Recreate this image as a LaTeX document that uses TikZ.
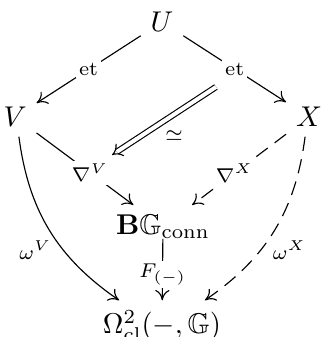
\documentclass[tikz,border=0pt]{standalone}
\usepackage{amsmath,amssymb}
\usetikzlibrary{arrows.meta}
\tikzset{
  obj/.style  ={inner sep=3.3pt},
  map/.style  ={-{To[length=3.6pt, width=5pt]}, line width=0.4pt},
  dmap/.style ={map, dash pattern=on 5pt off 3pt},
  eqv/.style  ={double, double distance=1.4pt, -{Implies}},
  lbl/.style  ={font=\scriptsize, fill=white, inner sep=1pt},
  side/.style ={font=\scriptsize, inner sep=1pt}
}

\begin{document}
\begin{tikzpicture}
  \useasboundingbox (0,0) rectangle (4.133,-4.146);
  \node[obj] (U)  at (1.993,-0.271) {$U$};
  \node[obj] (V)  at (0.185,-1.439) {$V$};
  \node[obj] (X)  at (3.801,-1.439) {$X$};
  \node[obj] (BG) at (2.005,-2.792) {$\mathbf{B}\mathbb{G}_{\mathrm{conn}}$};
  \node[obj] (Om) at (1.993,-4.010) {$\Omega^2_{\mathrm{cl}}(-,\mathbb{G})$};
  \coordinate (dtop) at (2.657,-1.070);
  \coordinate (dbot) at (1.378,-1.907);
  % top wedge
  \draw[map] (U) -- node[lbl]{$\mathrm{et}$} (V);
  \draw[map] (U) -- node[lbl]{$\mathrm{et}$} (X);
  \draw[eqv] (dtop) -- node[side, pos=0.55, below right, inner sep=2pt]{$\simeq$} (dbot);
  % connections
  \draw[map]  (V) -- node[lbl, pos=0.55]{$\nabla^V$} (BG);
  \draw[dmap] (X) -- node[lbl, pos=0.55]{$\nabla^X$} (BG);
  \draw[map, shorten <=-3.5pt] (BG) -- node[lbl]{$F_{(-)}$} (Om);
  % curvature
  \draw[map]  (V) to[bend right=24] node[side, pos=0.63, left=3pt]{$\omega^V$} (Om);
  \draw[dmap] (X) to[bend left=24]  node[side, pos=0.63, right=3pt]{$\omega^X$} (Om);
\end{tikzpicture}
\end{document}
